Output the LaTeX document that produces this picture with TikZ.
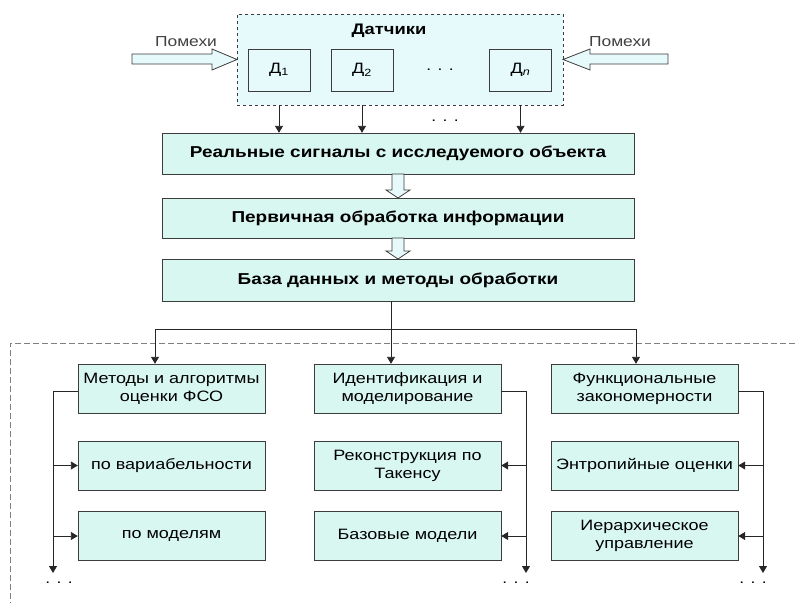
\documentclass[tikz,border=0pt]{standalone}
\usepackage{fontspec}
\setmainfont{Liberation Sans}[FakeStretch=1.2]
\usetikzlibrary{arrows.meta}
\usetikzlibrary{positioning}

\definecolor{sensfill}{RGB}{230,250,252}
\definecolor{boxfill}{RGB}{217,247,241}
\definecolor{edgegray}{RGB}{60,60,60}

\tikzset{
  mainbox/.style={draw=edgegray,fill=boxfill,minimum width=472pt,inner sep=0pt,
    font=\fontsize{15.8}{18}\selectfont\bfseries},
  subbox/.style={draw=edgegray,fill=boxfill,minimum width=187pt,minimum height=49pt,
    inner sep=0pt,align=center,font=\fontsize{15}{18}\selectfont},
  sensbox/.style={draw=edgegray,fill=sensfill,minimum width=62pt,minimum height=42pt,
    inner sep=0pt,font=\fontsize{15}{18}\selectfont},
  plain/.style={inner sep=0pt,font=\fontsize{14.5}{18}\selectfont},
  link/.style={draw=black!85,line width=0.9pt,-{Triangle[length=7pt,width=8pt]}},
  wire/.style={draw=black!85,line width=0.9pt},
  fat/.style={draw=edgegray,fill=sensfill,line width=0.8pt},
}

\begin{document}
\begin{tikzpicture}[x=1pt,y=-1pt]
\useasboundingbox (0,0) rectangle (795,603);

% sensors
\node [draw=edgegray,fill=sensfill,dashed,line width=0.8pt,minimum width=326pt,
  minimum height=91pt,inner sep=0pt] (region) at (400,59.5) {};
\node [plain,font=\fontsize{15.3}{18}\selectfont\bfseries] (title) at (389,31) {Датчики};
\node [sensbox] (d1) at (279,70) {Д\textsubscript{1}};
\node [sensbox] (d2) at (362,70) {Д\textsubscript{2}};
\node [sensbox] (dn) at (520.5,70) {Д\textsubscript{\itshape n}};
\node [plain] (dots0) at (440,70) {. . .};

% noise
\draw [fat] (132,54) -- (212,54) -- (212,49) -- (237,59.5) -- (212,70) -- (212,64) -- (132,64) -- cycle;
\draw [fat] (668,54) -- (590,54) -- (590,49) -- (563,59.5) -- (590,70) -- (590,64) -- (668,64) -- cycle;
\node [plain,text=black!75] (noiseL) at (186,42) {Помехи};
\node [plain,text=black!75] (noiseR) at (620,42) {Помехи};

% main chain
\node [mainbox,minimum height=41pt] (real) at (398,153.5) {Реальные сигналы с исследуемого объекта};
\node [mainbox,minimum height=40pt] (prim) at (398,218) {Первичная обработка информации};
\node [mainbox,minimum height=42pt] (base) at (398,280) {База данных и методы обработки};
\node [plain] (dots1) at (445,121) {. . .};

\draw [link] (d1.south |- region.south) -- (d1.south |- real.north);
\draw [link] (d2.south |- region.south) -- (d2.south |- real.north);
\draw [link] (dn.south |- region.south) -- (dn.south |- real.north);

\draw [fat] (392,174) -- (404,174) -- (404,190) -- (410,190) -- (398,198) -- (386,190) -- (392,190) -- cycle;
\draw [fat] (392,238) -- (404,238) -- (404,251) -- (410,251) -- (398,259) -- (386,251) -- (392,251) -- cycle;

% lower frame
\draw [gray,dashed,dash pattern=on 6pt off 3pt,line width=0.8pt] (795,343) -- (10,343) -- (10,603);

% columns
\node [subbox] (m1) at (171.5,388.5) {Методы и алгоритмы\\оценки ФСО};
\node [subbox] (m2) at (171.5,465.5) {по вариабельности};
\node [subbox] (m3) at (171.5,536) {по моделям};
\node [subbox] (i1) at (407.5,388.5) {Идентификация и\\моделирование};
\node [subbox] (i2) at (407.5,465.5) {Реконструкция по\\Такенсу};
\node [subbox] (i3) at (407.5,536) {Базовые модели};
\node [subbox] (f1) at (644.5,388.5) {Функциональные\\закономерности};
\node [subbox] (f2) at (644.5,465.5) {Энтропийные оценки};
\node [subbox] (f3) at (644.5,536) {Иерархическое\\управление};

% tree
\coordinate (fork) at (391,329);
\draw [wire] ([xshift=-7pt]base.south) -- (fork);
\draw [link] (fork) -| ([xshift=-16.5pt]m1.north);
\draw [link] (fork) -- ([xshift=-16.5pt]i1.north);
\draw [link] (fork) -| ([xshift=-8.5pt]f1.north);

% side buses
\coordinate (bus1) at (53,573);
\coordinate (bus2) at (526,573);
\coordinate (bus3) at (763,573);
\draw [link] ([yshift=-3pt]m1.west) -| (bus1);
\draw [link] ([yshift=-3pt]i1.east) -| (bus2);
\draw [link] ([yshift=-3pt]f1.east) -| (bus3);
\draw [link] (bus1 |- m2.west) -- (m2.west);
\draw [link] (bus1 |- m3.west) -- (m3.west);
\draw [link] (bus2 |- i2.east) -- (i2.east);
\draw [link] (bus2 |- i3.east) -- (i3.east);
\draw [link] (bus3 |- f2.east) -- (f2.east);
\draw [link] (bus3 |- f3.east) -- (f3.east);

\node [plain] (dotsA) at (59,583) {. . .};
\node [plain] (dotsB) at (516,583) {. . .};
\node [plain] (dotsC) at (753,583) {. . .};

\end{tikzpicture}
\end{document}
